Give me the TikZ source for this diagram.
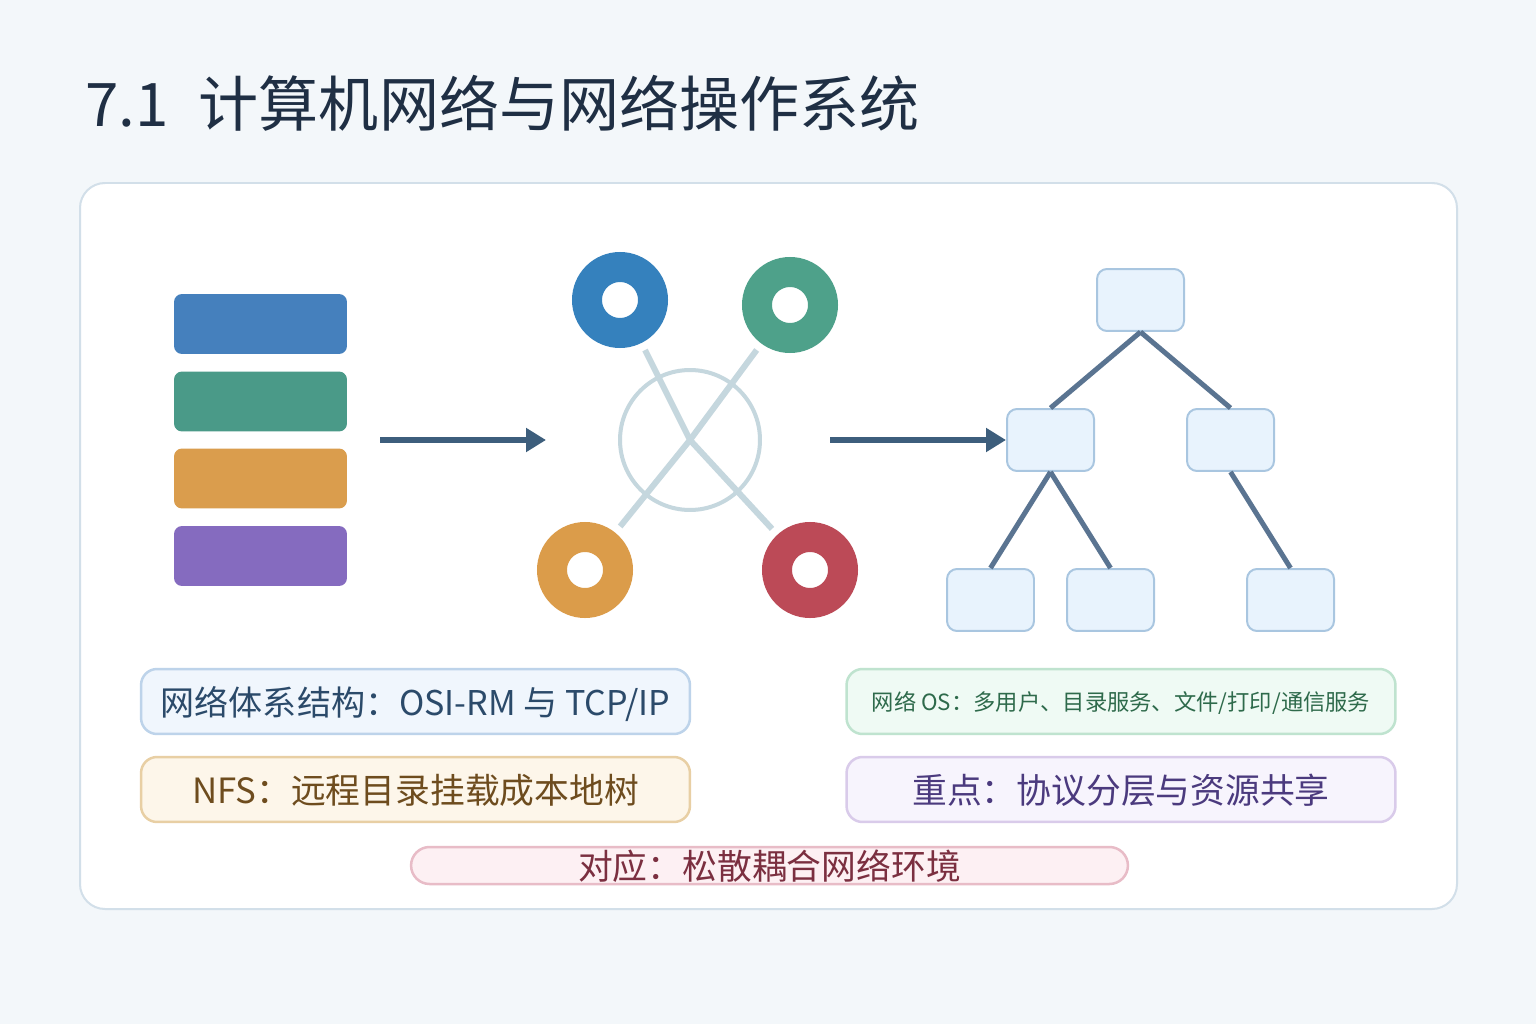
\documentclass[tikz,border=0pt]{standalone}
\usepackage{fontspec}
\setmainfont{Noto Sans CJK SC}
\usetikzlibrary{arrows.meta}
\definecolor{pagebg}{HTML}{F3F7FA}
\definecolor{panelline}{HTML}{D2DFE9}
\definecolor{titlec}{HTML}{1F2F44}
\definecolor{layblue}{HTML}{4580BD}
\definecolor{laygreen}{HTML}{4A9A88}
\definecolor{layorange}{HTML}{DA9D4D}
\definecolor{laypurple}{HTML}{856BBF}
\definecolor{ringblue}{HTML}{3581BD}
\definecolor{ringgreen}{HTML}{4EA18A}
\definecolor{ringorange}{HTML}{DB9C4A}
\definecolor{ringred}{HTML}{BC4A57}
\definecolor{hubc}{HTML}{C5D7DE}
\definecolor{flowc}{HTML}{3D5E7C}
\definecolor{treefill}{HTML}{E8F3FD}
\definecolor{treeline}{HTML}{A9C6E0}
\definecolor{edgec}{HTML}{5A7491}
\definecolor{archline}{HTML}{BDD3EA}
\definecolor{archfill}{HTML}{F0F6FD}
\definecolor{archtext}{HTML}{2B4A6A}
\definecolor{nfsline}{HTML}{E8CFA4}
\definecolor{nfsfill}{HTML}{FDF6EA}
\definecolor{nfstext}{HTML}{6E4C1E}
\definecolor{osline}{HTML}{BFE3CF}
\definecolor{osfill}{HTML}{EFFAF4}
\definecolor{ostext}{HTML}{2E6A4B}
\definecolor{keyline}{HTML}{D9CBEA}
\definecolor{keyfill}{HTML}{F7F4FD}
\definecolor{keytext}{HTML}{4B3A7E}
\definecolor{envline}{HTML}{E8BCC7}
\definecolor{envfill}{HTML}{FDF0F3}
\definecolor{envtext}{HTML}{7B2F40}

\begin{document}
\begin{tikzpicture}[
    x=0.02cm, y=-0.02cm,
    >={Triangle[length=0.4cm, width=0.46cm]},
    bar/.style={fill=#1, rounded corners=0.16cm, minimum width=3.46cm,
                minimum height=1.2cm, inner sep=0pt},
    ring/.style={circle, draw=#1, fill=white, line width=0.6cm,
                 minimum size=1.32cm, inner sep=0pt},
    spoke/.style={draw=hubc, line width=0.12cm, shorten >=0.16cm},
    flow/.style={->, draw=flowc, line width=0.12cm},
    tnode/.style={draw=treeline, fill=treefill, line width=0.04cm,
                  rounded corners=0.2cm, minimum width=1.74cm,
                  minimum height=1.24cm, inner sep=0pt},
    tedge/.style={draw=edgec, line width=0.1cm},
    tag/.style={draw=#1line, fill=#1fill, text=#1text, line width=0.05cm,
                rounded corners=0.32cm, minimum width=10.98cm,
                minimum height=1.3cm, inner sep=0pt,
                text height=0.64cm, text depth=0.068cm,
                font=\fontsize{19.8pt}{24pt}\selectfont},
]
\fill[pagebg] (0,0) rectangle (1536,1024);
\filldraw[fill=white, draw=panelline, line width=0.04cm, rounded corners=0.5cm]
    (80,183) rectangle (1457,909);

\node[anchor=base west, text=titlec, inner sep=0pt,
      font=\fontsize{34.2pt}{40pt}\selectfont] (title) at (85,127)
    {7.1\hspace{0.5em}计算机网络与网络操作系统};

% layer stack
\node[bar=layblue]   (b1) at (260.5,324)   {};
\node[bar=laygreen]  (b2) at (260.5,401.5) {};
\node[bar=layorange] (b3) at (260.5,478.5) {};
\node[bar=laypurple] (b4) at (260.5,556)   {};

% network
\node[circle, draw=hubc, line width=0.08cm, minimum size=2.8cm, inner sep=0pt]
    (hub) at (690,440) {};
\node[ring=ringblue]   (r1) at (620,300) {};
\node[ring=ringgreen]  (r2) at (790,305) {};
\node[ring=ringorange] (r3) at (585,570) {};
\node[ring=ringred]    (r4) at (810,570) {};
\foreach \r in {r1,r2,r3,r4}
    \draw[spoke] (hub.center) -- (\r);

% directory tree
\node[tnode] (root) at (1140.5,300) {};
\node[tnode] (ta) at (1050.5,440) {};
\node[tnode] (tb) at (1230.5,440) {};
\node[tnode] (taa) at (990.5,600) {};
\node[tnode] (tab) at (1110.5,600) {};
\node[tnode] (tbb) at (1290.5,600) {};
\draw[tedge] (root.south) -- (ta.north);
\draw[tedge] (root.south) -- (tb.north);
\draw[tedge] (ta.south) -- (taa.north);
\draw[tedge] (ta.south) -- (tab.north);
\draw[tedge] (tb.south) -- (tbb.north);

\coordinate (f1s) at (380,440);
\coordinate (f1e) at (546,440);
\coordinate (f2s) at (830,440);
\draw[flow] (f1s) -- (f1e);
\draw[flow] (f2s) -- (ta.west);

% notes
\node[tag=arch, font=\fontsize{19.4pt}{24pt}\selectfont] (n1) at (415.5,701.5)
    {网络体系结构：OSI-RM 与 TCP/IP};
\node[tag=nfs]  (n2) at (415.5,789.5) {NFS：远程目录挂载成本地树};
\node[tag=os, font=\fontsize{12.7pt}{15pt}\selectfont,
      text height=0.4cm, text depth=0.04cm] (n3) at (1121,701.5)
    {网络 OS：多用户、目录服务、文件/打印/通信服务};
\node[tag=key]  (n4) at (1121,789.5) {重点：协议分层与资源共享};
\node[tag=env, minimum width=14.34cm, minimum height=0.74cm,
      rounded corners=0.37cm] (n5) at (769.5,865.5) {对应：松散耦合网络环境};
\end{tikzpicture}
\end{document}
